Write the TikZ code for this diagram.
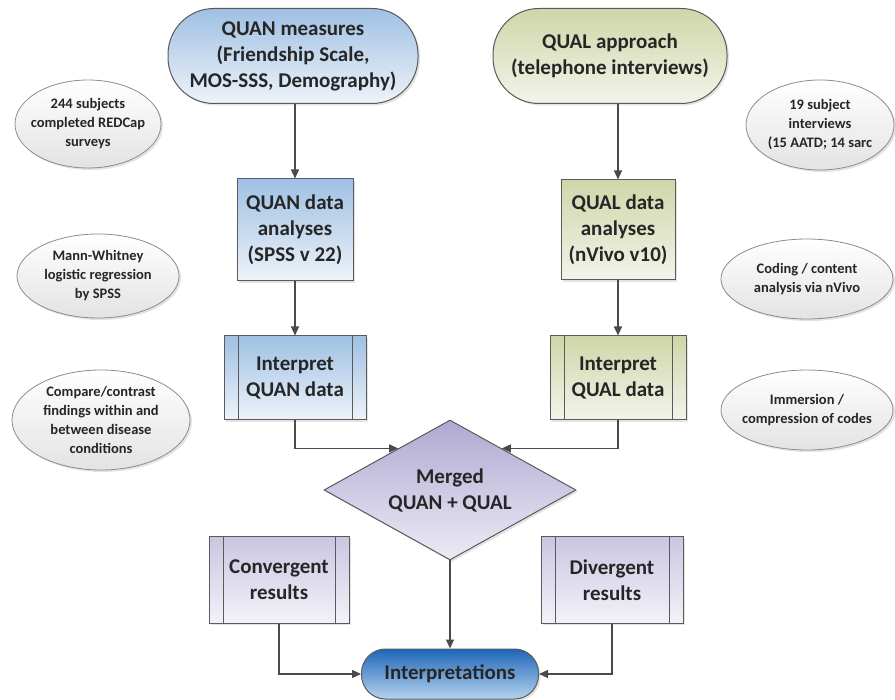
\documentclass[tikz,border=0pt]{standalone}
\usepackage{fontspec}
\setmainfont{Carlito}
\usepackage{tikz}
\usetikzlibrary{calc,positioning,shapes.geometric,shadows,arrows.meta}
\definecolor{quanblue}{HTML}{9FC0E3}
\definecolor{quanpale}{HTML}{EEF3F9}
\definecolor{qualgreen}{HTML}{CFD6A9}
\definecolor{qualpale}{HTML}{F3F4EA}
\definecolor{mergepurple}{HTML}{AFA8D2}
\definecolor{mergepale}{HTML}{EDEBF5}
\definecolor{respurple}{HTML}{CAC6E2}
\definecolor{respale}{HTML}{F3F2F8}
\definecolor{interpdark}{HTML}{1F66B8}
\definecolor{interppale}{HTML}{B5D3EE}
\definecolor{bubpale}{HTML}{E3E3E3}
\definecolor{bubgray}{HTML}{8C8C8C}
\definecolor{boxgray}{HTML}{5A5A5A}
\definecolor{arrowgray}{HTML}{4A4A4A}
\definecolor{inkgray}{HTML}{262626}

\tikzset{
  softshadow/.style={drop shadow={opacity=0.22, shadow xshift=2pt, shadow yshift=-2pt}},
  basebox/.style={draw=boxgray, line width=1pt, align=center, inner sep=2pt,
    text=inkgray, font=\bfseries\fontsize{21}{26}\selectfont, softshadow},
  quanfill/.style={shading=axis, top color=quanblue, bottom color=quanpale},
  qualfill/.style={shading=axis, top color=qualgreen, bottom color=qualpale},
  resfill/.style={shading=axis, top color=respurple, bottom color=respale},
  pill/.style={basebox, rectangle, rounded corners=#1},
  databox/.style={basebox, rectangle},
  procbox/.style={basebox, rectangle, path picture={
      \draw[boxgray, line width=1pt]
        ([xshift=14pt]path picture bounding box.north west) --
        ([xshift=14pt]path picture bounding box.south west)
        ([xshift=-14pt]path picture bounding box.north east) --
        ([xshift=-14pt]path picture bounding box.south east);}},
  bubble/.style={ellipse, draw=bubgray, line width=0.8pt, shading=axis,
    top color=white, bottom color=bubpale, softshadow},
  bubtext/.style={align=center, text=inkgray, font=\bfseries\fontsize{14.5}{19}\selectfont},
  flow/.style={draw=arrowgray, line width=1.1pt, -{Triangle[length=9pt,width=8pt]}}
}

\begin{document}
\begin{tikzpicture}[x=1pt, y=-1pt]
  \useasboundingbox (0,0) rectangle (895,700);

  % top row
  \node[pill=46pt, quanfill, minimum width=250pt, minimum height=95pt] (quanm) at (293,56)
    {QUAN measures\\(Friendship Scale,\\MOS-SSS, Demography)};
  \node[pill=46pt, qualfill, minimum width=234pt, minimum height=95pt] (qualm) at (610,56)
    {QUAL approach\\(telephone interviews)};

  % analyses
  \node[databox, quanfill, minimum width=116pt, minimum height=102pt] (quand) at (295,230)
    {QUAN data\\analyses\\(SPSS v 22)};
  \node[databox, qualfill, minimum width=114pt, minimum height=100pt] (quald) at (618,230)
    {QUAL data\\analyses\\(nVivo v10)};

  % interpretation of each strand
  \node[procbox, quanfill, minimum width=142pt, minimum height=84pt] (quani) at (295,378)
    {Interpret\\QUAN data};
  \node[procbox, qualfill, minimum width=136pt, minimum height=84pt] (quali) at (618,378)
    {Interpret\\QUAL data};

  % merge
  \node[basebox, diamond, aspect=1.8, inner sep=0pt, shading=axis, top color=mergepurple,
    bottom color=mergepale, minimum width=252pt, minimum height=140pt] (merged) at (450,490)
    {Merged\\QUAN + QUAL};

  \node[procbox, resfill, minimum width=140pt, minimum height=86pt] (conv) at (279,580)
    {Convergent\\results};
  \node[procbox, resfill, minimum width=142pt, minimum height=86pt] (div) at (612,580)
    {Divergent\\results};

  \node[pill=24pt, shading=axis, top color=interpdark, bottom color=interppale,
    minimum width=177pt, minimum height=50pt] (interp) at (450,674) {Interpretations};

  % side notes
  \node[bubble, minimum width=146pt, minimum height=88pt] (subj) at (88,124) {};
  \node[bubtext] (subj-t) at (subj) {244 subjects\\completed REDCap\\surveys};
  \node[bubble, minimum width=162pt, minimum height=84pt] (mann) at (98,276) {};
  \node[bubtext] (mann-t) at (mann) {Mann-Whitney\\logistic regression\\by SPSS};
  \node[bubble, minimum width=178pt, minimum height=100pt] (compare) at (101,420) {};
  \node[bubtext] (compare-t) at (compare) {Compare/contrast\\findings within and\\between disease\\conditions};

  \node[bubble, minimum width=148pt, minimum height=90pt] (intv) at (820,125) {};
  \node[bubtext] (intv-t) at (intv) {19 subject\\interviews\\(15 AATD; 14 sarc};
  \node[bubble, minimum width=172pt, minimum height=80pt] (coding) at (807,279) {};
  \node[bubtext] (coding-t) at (coding) {Coding / content\\analysis via nVivo};
  \node[bubble, minimum width=172pt, minimum height=80pt] (immer) at (807,410) {};
  \node[bubtext] (immer-t) at (immer) {Immersion /\\compression of codes};

  % connectors
  \draw[flow] (quanm.south -| quand) -- (quand);
  \draw[flow] (qualm.south -| quald) -- (quald);
  \draw[flow] (quand) -- (quani);
  \draw[flow] (quald) -- (quali);
  \draw[flow] (quani.south) |- ($(merged.north)!0.41!(merged.west)$);
  \draw[flow] (quali.south) |- ($(merged.north)!0.41!(merged.east)$);
  \draw[flow] (merged.south) -- (interp.north);
  \draw[flow] (conv.south) |- (interp.west);
  \draw[flow] (div.south) |- (interp.east);
\end{tikzpicture}
\end{document}
